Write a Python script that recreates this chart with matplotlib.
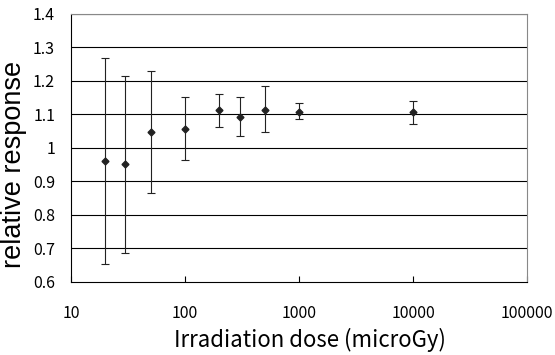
import matplotlib
matplotlib.use("Agg")
import matplotlib.pyplot as plt
from matplotlib.ticker import FixedLocator, NullLocator
import numpy as np

plt.rcParams['font.family'] = ['Noto Sans CJK JP', 'DejaVu Sans']

# dose (microGy) and relative response
dose = [20, 30, 50, 100, 200, 300, 500, 1000, 10000]
response = [0.961, 0.951, 1.046, 1.057, 1.114, 1.093, 1.114, 1.108, 1.106]
err_low = [0.653, 0.687, 0.865, 0.965, 1.063, 1.036, 1.047, 1.087, 1.071]
err_high = [1.268, 1.213, 1.228, 1.151, 1.162, 1.151, 1.184, 1.133, 1.139]

xticks = [10, 100, 1000, 10000, 100000]
xtick_labels = ['10', '100', '1000', '10000', '100000']
yticks = [0.6, 0.7, 0.8, 0.9, 1.0, 1.1, 1.2, 1.3, 1.4]
ytick_labels = ['0.6', '0.7', '0.8', '0.9', '1', '1.1', '1.2', '1.3', '1.4']

fig = plt.figure(figsize=(5.55, 3.55), dpi=100)
ax = fig.add_axes([0.128, 0.206, 0.822, 0.755])

resp = np.array(response)
yerr = [resp - np.array(err_low), np.array(err_high) - resp]

ax.set_xscale('log')
ax.set_xlim(10, 100000)
ax.set_ylim(0.6, 1.4)

for y in yticks[1:]:
    ax.axhline(y, color='black', lw=0.8, zorder=1)

ax.errorbar(dose, resp, yerr=yerr, fmt='D', color='#222222', ms=3.5,
            ecolor='#222222', elinewidth=0.8, capsize=3, capthick=0.8, zorder=3)

ax.xaxis.set_major_locator(FixedLocator(xticks))
ax.xaxis.set_minor_locator(NullLocator())
ax.set_xticklabels(xtick_labels)
ax.set_yticks(yticks)
ax.set_yticklabels(ytick_labels)
ax.tick_params(axis='x', direction='in', length=4, width=0.8, labelsize=11.5, pad=17)
ax.tick_params(axis='y', length=0, labelsize=11.5, pad=11.5)

for s in ['left', 'bottom']:
    ax.spines[s].set_color('black')
    ax.spines[s].set_linewidth(0.8)
for s in ['top', 'right']:
    ax.spines[s].set_color('#888888')
    ax.spines[s].set_linewidth(0.8)

fig.text(0.559, 0.042, 'Irradiation dose (microGy)', fontsize=16,
         ha='center', va='center')
fig.text(0.026, 0.538, 'relative response', fontsize=19.5, family='Liberation Sans',
         rotation=90, ha='center', va='center')

fig.savefig('out.png', dpi=100)
